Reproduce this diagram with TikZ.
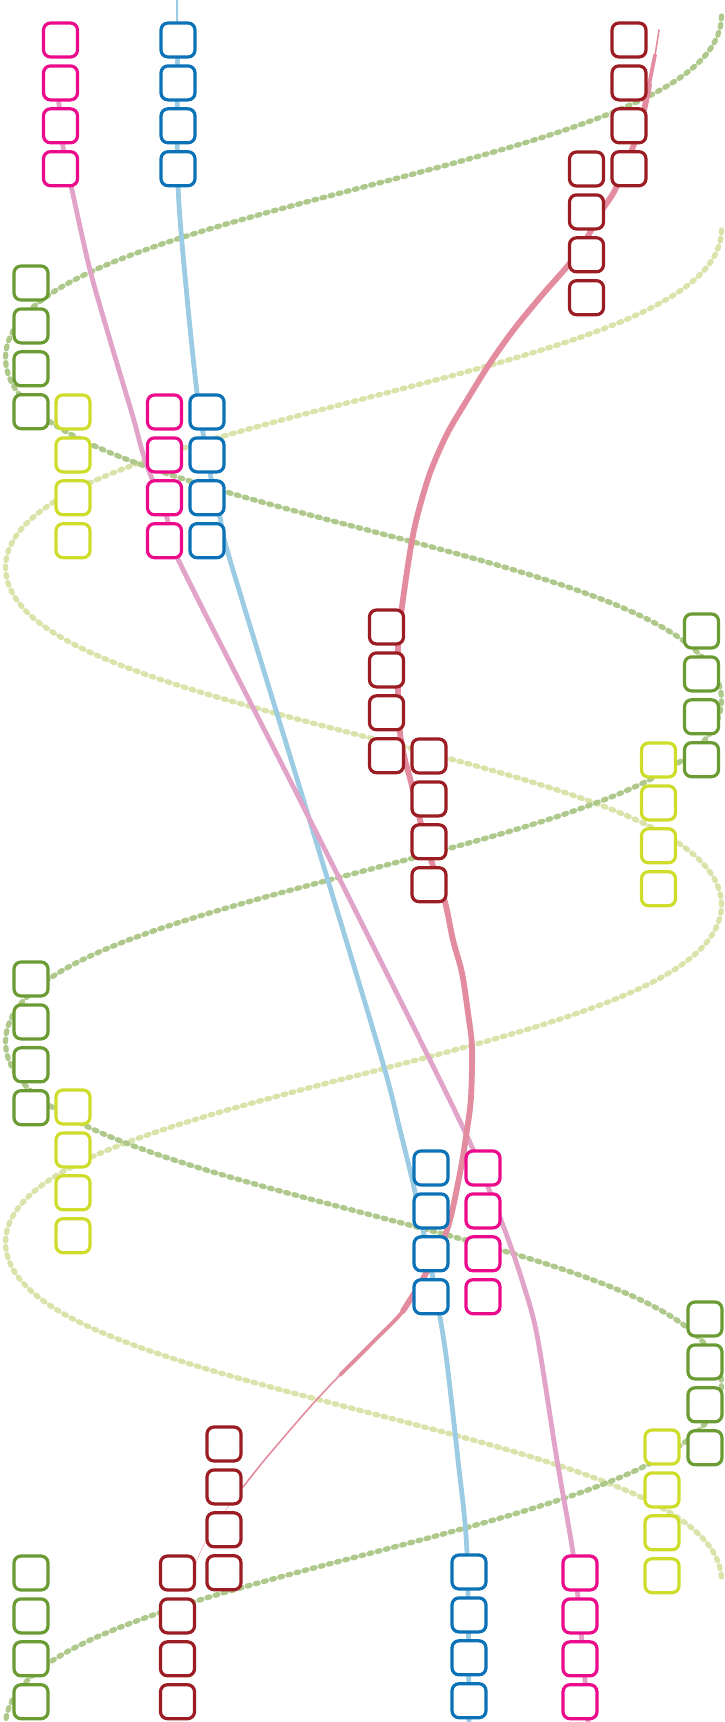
\documentclass[tikz,border=0pt]{standalone}
\definecolor{cPink}{HTML}{EC0A8C}
\definecolor{cBlue}{HTML}{0B72B8}
\definecolor{cRed}{HTML}{9B1C22}
\definecolor{cGreen}{HTML}{6A9C33}
\definecolor{cYel}{HTML}{CEDC2A}
\definecolor{sA}{HTML}{AFC98C}
\definecolor{sB}{HTML}{DAE3AA}
\definecolor{lPink}{HTML}{E2A3C8}
\definecolor{lBlue}{HTML}{9CCCE4}
\definecolor{lRed}{HTML}{E48C9F}
\tikzset{
  bx/.style={draw, fill=white, line width=3.2pt, rounded corners=7pt,
    minimum width=34pt, minimum height=34pt, inner sep=0pt, outer sep=0pt},
  strand/.style={line width=5.3pt, line cap=round, dash pattern=on 2.8pt off 5.6pt},
  strandA/.style={strand, draw=sA},
  strandB/.style={strand, draw=sB},
  ln/.style={line cap=round, line join=round}
}
\newcommand\stk[4]{\foreach \i in {0,1,2,3}{\node[bx,draw=#2] (#1\i) at (#3,{#4+42.9*\i}) {};}}
\begin{document}
\begin{tikzpicture}[x=1pt,y=-1pt,
  declare function={hh(\p)=cos(\p)*(1+0.167*sin(\p)*sin(\p));}]
\useasboundingbox (0,0) rectangle (725,1722);
\begin{scope}
\clip (0,0) rectangle (725,1722);
% strands
\draw[strandB] plot[domain=230:1582, samples=320, smooth, variable=\t]
  ({363.5+358*hh((\t-230)*0.5333333)}, \t);
\draw[strandA] plot[domain=16:1722, samples=380, smooth, variable=\t]
  ({363.5+358*hh((\t-16)*0.5263158)}, \t);
% blue line
\draw[ln, lBlue, line width=2pt] plot[smooth] coordinates {(177,0) (177.5,60) (178,186)};
\draw[ln, lBlue, line width=4.8pt] plot[smooth] coordinates {(177.5,60) (178,186) (187,297) (197,393) (203,433) (210,473) (220,517) (230,560) (305,805) (380,1053) (400,1130) (413,1183) (423,1230) (432,1273) (440,1317) (447,1363) (458,1460) (467,1553) (469,1722)};
% pink line
\draw[ln, lPink, line width=4.8pt] plot[smooth] coordinates {(57,80) (63,147) (72,190) (90,270) (110,340) (133,417) (145,460) (167,518) (177,557) (300,800) (430,1060) (472,1147) (490,1192) (507,1236) (522,1280) (537,1335) (557,1460) (573,1553) (580,1620) (585,1680) (588,1722)};
% red line (tapered)
\draw[ln, lRed, line width=1.6pt] plot[smooth] coordinates {(659,30) (655,55) (649,85) (644,110) (633,147) (615,190) (600,213) (588,236) (570,263) (543,294) (515,328) (490,363) (467,400) (447,434) (430,473) (417,517) (410,552) (402,607) (398,648) (398,692) (400,733) (405,760) (411,782) (420,820) (432,863) (445,902) (453,940) (462,973) (468,1013) (472,1047) (471,1097) (467,1130) (460,1173) (447,1230) (425,1275) (403,1311) (375,1340) (340,1375) (310,1407) (267,1457) (243,1487)};
\draw[ln, lRed, line width=3.8pt] plot[smooth] coordinates {(655,55) (649,85) (644,110) (633,147) (615,190) (600,213) (588,236) (570,263) (543,294) (515,328) (490,363) (467,400) (447,434) (430,473) (417,517) (410,552) (402,607) (398,648) (398,692) (400,733) (405,760) (411,782) (420,820) (432,863) (445,902) (453,940) (462,973) (468,1013) (472,1047) (471,1097) (467,1130) (460,1173) (447,1230) (425,1275) (403,1311) (375,1340) (340,1375)};
\draw[ln, lRed, line width=5.8pt] plot[smooth] coordinates {(649,85) (644,110) (633,147) (615,190) (600,213) (588,236) (570,263) (543,294) (515,328) (490,363) (467,400) (447,434) (430,473) (417,517) (410,552) (402,607) (398,648) (398,692) (400,733) (405,760) (411,782) (420,820) (432,863) (445,902) (453,940) (462,973) (468,1013) (472,1047) (471,1097) (467,1130) (460,1173) (447,1230) (425,1275) (403,1311)};
\draw[ln, lRed, line width=0.7pt, opacity=0.6] plot[smooth] coordinates {(243,1487) (215,1525) (200,1553) (185,1593)};
\end{scope}
% boxes
\stk{P1}{cPink}{60.5}{40}
\stk{B1}{cBlue}{178}{40}
\stk{R1}{cRed}{629}{40}
\stk{R2}{cRed}{586.5}{169}
\stk{G1}{cGreen}{31}{283}
\stk{Y1}{cYel}{73}{412}
\stk{P2}{cPink}{164.5}{412}
\stk{B2}{cBlue}{207}{412}
\stk{R3}{cRed}{386.5}{627}
\stk{R4}{cRed}{429}{756}
\stk{G2}{cGreen}{701.5}{631}
\stk{Y2}{cYel}{658.5}{760}
\stk{G3}{cGreen}{31}{979}
\stk{Y3}{cYel}{73}{1107}
\stk{B3}{cBlue}{431}{1168}
\stk{P3}{cPink}{483}{1168}
\stk{G4}{cGreen}{705}{1319}
\stk{Y4}{cYel}{662}{1447}
\stk{R5}{cRed}{224}{1444}
\stk{R6}{cRed}{177.5}{1573}
\stk{G5}{cGreen}{31}{1573}
\stk{B4}{cBlue}{469}{1572}
\stk{P4}{cPink}{580}{1573}
\end{tikzpicture}
\end{document}
